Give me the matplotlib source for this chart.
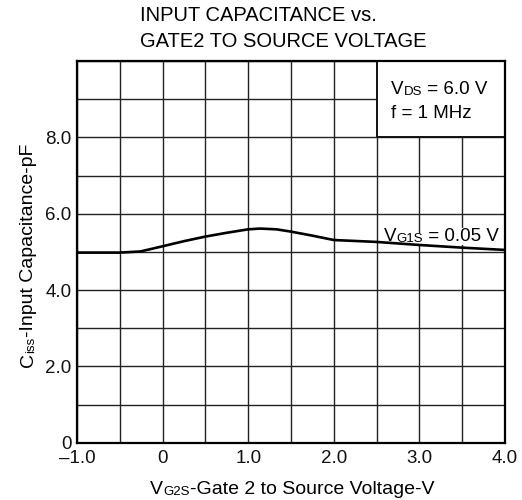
import matplotlib
matplotlib.use("Agg")
import matplotlib.pyplot as plt
from matplotlib.patches import Rectangle

plt.rcParams["font.family"] = ["Liberation Sans", "DejaVu Sans"]

# curve, VG1S = 0.05 V
vg2s = [-1.0, -0.5, -0.26, -0.03, 0.25, 0.5, 0.75, 1.0, 1.14, 1.33, 1.5, 1.76, 2.0, 2.5, 3.0, 3.5, 4.0]
ciss = [4.98, 4.98, 5.01, 5.13, 5.28, 5.40, 5.50, 5.59, 5.61, 5.59, 5.53, 5.42, 5.31, 5.26, 5.18, 5.11, 5.05]

x_ticks = [-1.0, 0.0, 1.0, 2.0, 3.0, 4.0]
x_labels = ["\u20131.0", "0", "1.0", "2.0", "3.0", "4.0"]
y_ticks = [0, 2, 4, 6, 8]
y_labels = ["0", "2.0", "4.0", "6.0", "8.0"]

FS = 13.5
LFS = 14
SMALL = 9.5

fig = plt.figure(figsize=(5.22, 5.0), dpi=100)
ax = fig.add_axes([77 / 522, 1 - 442.7 / 500, 428 / 522, 381.7 / 500])
ax.set_xlim(-1, 4)
ax.set_ylim(0, 10)
ax.set_xticks(x_ticks, x_labels, fontsize=FS)
ax.set_yticks(y_ticks, y_labels, fontsize=FS)
ax.set_xticks([x / 2 for x in range(-2, 9)], minor=True)
ax.set_yticks(range(0, 11), minor=True)
ax.tick_params(which="both", length=0, colors="#111111")
ax.tick_params(axis="x", pad=5)
ax.tick_params(axis="y", pad=4)
ax.grid(True, which="both", color="#222222", lw=1.0)
for s in ax.spines.values():
    s.set_linewidth(1.6)
    s.set_zorder(5)

# white box for test conditions
ax.add_patch(Rectangle((2.5, 8), 1.5, 2, facecolor="white", edgecolor="#111111", lw=1.4, zorder=2))

ax.plot(vg2s, ciss, color="black", lw=1.9, zorder=7)


def runs(x, y, parts, coords, rot=0, **kw):
    """draw text pieces of different sizes one after another"""
    prev = None
    for txt, size in parts:
        if prev is None:
            prev = ax.annotate(txt, xy=(x, y), xycoords=coords, fontsize=size, rotation=rot,
                               ha="left" if rot == 0 else "right", va="bottom", annotation_clip=False, **kw)
        else:
            if rot == 0:
                prev = ax.annotate(txt, xy=(1, 0), xycoords=prev, fontsize=size, ha="left", va="bottom", **kw)
            else:
                prev = ax.annotate(txt, xy=(1, 1), xycoords=prev, fontsize=size, rotation=rot,
                                   ha="right", va="bottom", **kw)
    return prev


runs(391 / 522, 1 - 98 / 500, [("V", FS), ("DS", SMALL), (" = 6.0 V", FS)], "figure fraction", zorder=6)
runs(391 / 522, 1 - 122 / 500, [("f = 1 MHz", FS)], "figure fraction", zorder=6)
runs(384 / 522, 1 - 245 / 500, [("V", FS), ("G1S", SMALL), (" = 0.05 V", FS)], "figure fraction",
     zorder=6, bbox=dict(facecolor="white", edgecolor="none", pad=0.3))

runs(150 / 522, 1 - 498 / 500, [("V", LFS), ("G2S", SMALL), ("-Gate 2 to Source Voltage-V", LFS)], "figure fraction")
runs(37 / 522, 1 - 367 / 500, [("C", LFS), ("iss", SMALL), ("-Input Capacitance-pF", LFS)], "figure fraction", rot=90)

fig.text(140 / 522, 1 - 6 / 500, "INPUT CAPACITANCE vs.\nGATE2 TO SOURCE VOLTAGE", fontsize=14.5,
         ha="left", va="top", linespacing=1.45)

fig.savefig("out.png", dpi=100)
